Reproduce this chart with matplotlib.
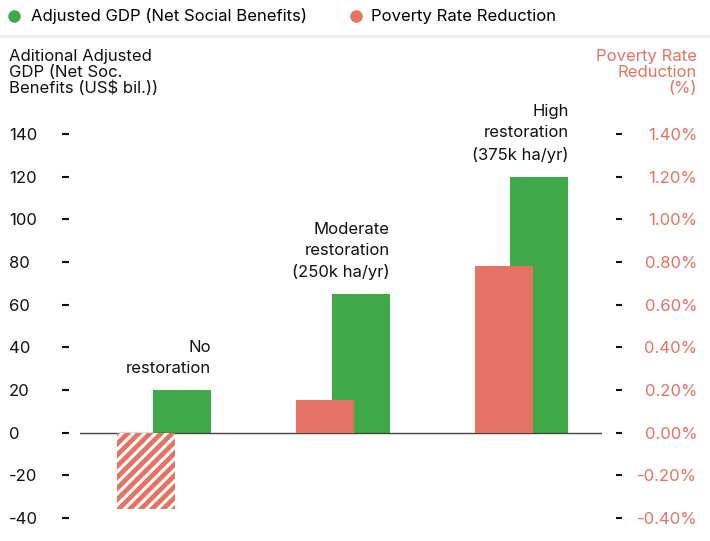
import numpy as np
import matplotlib.pyplot as plt
from matplotlib.lines import Line2D

plt.rcParams['font.family'] = ['Inter', 'DejaVu Sans']
plt.rcParams['font.size'] = 12
plt.rcParams['hatch.linewidth'] = 2.2

scenarios = ["No\nrestoration", "Moderate\nrestoration\n(250k ha/yr)", "High\nrestoration\n(375k ha/yr)"]
gdp = [20, 65, 120]              # US$ bil.
poverty = [-0.36, 0.155, 0.78]   # %
gdp_ticks = [-40, -20, 0, 20, 40, 60, 80, 100, 120, 140]
pov_ticks = [-0.4, -0.2, 0, 0.2, 0.4, 0.6, 0.8, 1.0, 1.2, 1.4]

green = '#3fa94a'
red = '#e57263'

fig = plt.figure(figsize=(7.1, 5.41), dpi=100)
ax = fig.add_axes([80/710, 23/541, 522/710, 384/541])
ax2 = ax.twinx()

x = np.arange(len(scenarios))
w = 0.325
off = 0.1

ax.bar(x + off, gdp, width=w, color=green, zorder=2)
for i, v in enumerate(poverty):
    if v < 0:
        ax2.bar(x[i] - off, v, width=w, color=red, edgecolor='white', linewidth=0, hatch='///', zorder=3)
    else:
        ax2.bar(x[i] - off, v, width=w, color=red, linewidth=0, zorder=3)

ax.axhline(0, color='#444444', linewidth=1, zorder=4)

for i, lab in enumerate(scenarios):
    ax.text(x[i] + off + w/2, gdp[i] + 6.5, lab, ha='right', va='bottom',
            fontsize=12, linespacing=1.5, color='#111111')

ax.set_xlim(-0.47, 2.45)
ax.set_ylim(-40, 140)
ax2.set_ylim(-0.4, 1.4)
ax.set_xticks([])
ax.set_yticks(gdp_ticks)
ax.set_yticklabels([str(t) for t in gdp_ticks])
ax2.set_yticks(pov_ticks)
ax2.set_yticklabels([f'{t:.2f}%' for t in pov_ticks])

for a in (ax, ax2):
    for s in a.spines.values():
        s.set_visible(False)
ax.spines['left'].set_position(('outward', 8))
ax2.spines['right'].set_position(('outward', 10))
ax.tick_params(axis='y', length=5, width=1.5, pad=38, labelsize=12, colors='#111111')
ax2.tick_params(axis='y', length=4.5, width=1.5, pad=54, labelsize=12, colors='#111111', labelcolor=red)
for lab in ax.get_yticklabels():
    lab.set_ha('left')
for lab in ax2.get_yticklabels():
    lab.set_ha('right')

# axis titles
fig.text(9/710, 1 - 49/541, "Aditional Adjusted\nGDP (Net Soc.\nBenefits (US$ bil.))",
         ha='left', va='top', fontsize=12, linespacing=1.08, color='#111111')
fig.text(697/710, 1 - 49/541, "Poverty Rate\nReduction\n(%)",
         ha='right', va='top', fontsize=12, linespacing=1.08, color=red)

# legend
fig.add_artist(Line2D([14/710], [1 - 16/541], marker='o', markersize=8, color=green, linestyle='none'))
fig.text(31/710, 1 - 16/541, "Adjusted GDP (Net Social Benefits)", ha='left', va='center', fontsize=12)
fig.add_artist(Line2D([356/710], [1 - 16/541], marker='o', markersize=8, color=red, linestyle='none'))
fig.text(371/710, 1 - 16/541, "Poverty Rate Reduction", ha='left', va='center', fontsize=12)
fig.add_artist(Line2D([0, 1], [1 - 36/541, 1 - 36/541], color='#efefef', linewidth=2))

plt.savefig('out.png', dpi=100)
